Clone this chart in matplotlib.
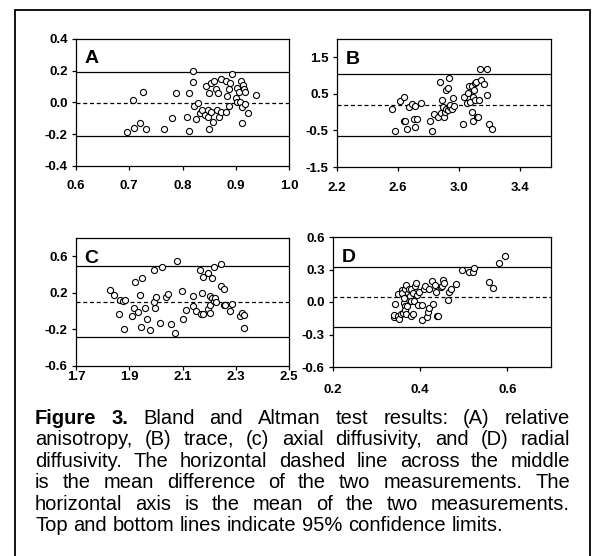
import matplotlib
matplotlib.use('Agg')
import matplotlib.pyplot as plt
from matplotlib.font_manager import FontProperties
from matplotlib.patches import Rectangle

# --- dados (media vs diferenca) ---
a_x = [0.696, 0.7075, 0.709, 0.72, 0.726, 0.731, 0.765, 0.781, 0.7875, 0.808, 0.8125, 0.813,
       0.819, 0.82, 0.821, 0.826, 0.829, 0.8325, 0.836, 0.842, 0.845, 0.847, 0.849, 0.85,
       0.848, 0.854, 0.8575, 0.86, 0.862, 0.854, 0.866, 0.864, 0.869, 0.873, 0.873, 0.8825,
       0.884, 0.881, 0.8875, 0.8875, 0.89, 0.893, 0.9, 0.9025, 0.903, 0.906, 0.909, 0.9075,
       0.912, 0.912, 0.914, 0.915, 0.917, 0.917, 0.923, 0.9375]
a_y = [-0.187, 0.017, -0.158, -0.131, 0.063, -0.164, -0.164, -0.097, 0.061, -0.091, 0.061, -0.179,
       0.131, 0.2, -0.021, -0.101, -0.002, -0.069, -0.048, -0.08, 0.105, -0.048, -0.164, 0.061,
       -0.091, 0.12, -0.122, 0.137, 0.084, -0.059, 0.057, -0.048, -0.091, 0.146, -0.059, 0.137,
       0.04, -0.059, 0.088, -0.023, 0.12, 0.177, 0.029, 0.093, 0.004, 0.067, 0.135, 0.0,
       -0.126, -0.027, 0.109, 0.088, 0.067, -0.011, -0.069, 0.046]

b_x = [2.562, 2.582, 2.612, 2.638, 2.64, 2.647, 2.66, 2.671, 2.688, 2.703, 2.71, 2.712, 2.721,
       2.747, 2.808, 2.823, 2.834, 2.864, 2.875, 2.879, 2.888, 2.894, 2.899, 2.905, 2.912, 2.916,
       2.925, 2.927, 2.933, 2.936, 2.942, 2.951, 2.957, 2.966, 3.027, 3.029, 3.051, 3.057, 3.064,
       3.068, 3.081, 3.085, 3.088, 3.09, 3.096, 3.103, 3.105, 3.111, 3.116, 3.122, 3.129, 3.133,
       3.144, 3.161, 3.183, 3.183, 3.194, 3.211]
b_y = [0.096, -0.518, 0.298, 0.417, -0.243, -0.243, -0.463, 0.133, 0.225, -0.188, -0.417, 0.179,
       -0.188, 0.252, -0.234, -0.518, -0.05, -0.124, 0.821, -0.014, 0.326, 0.151, -0.142, 0.014,
       0.61, 0.078, 0.647, 0.06, 0.922, 0.133, 0.197, 0.078, 0.399, 0.17, -0.335, 0.417, 0.243,
       0.537, 0.72, 0.289, 0.711, 0.005, -0.243, 0.427, 0.601, 0.326, 0.794, 0.812, -0.124,
       -0.124, 0.344, 1.188, 0.885, 0.775, 1.188, 0.482, -0.335, -0.472]

c_x = [1.8275, 1.844, 1.86, 1.865, 1.875, 1.8825, 1.881, 1.91, 1.919, 1.9225, 1.931, 1.94, 1.9425,
       1.949, 1.959, 1.966, 1.979, 1.994, 1.994, 1.9975, 1.999, 2.014, 2.0225, 2.0375, 2.045,
       2.0575, 2.071, 2.08, 2.099, 2.101, 2.1125, 2.139, 2.139, 2.1525, 2.165, 2.169, 2.175,
       2.1775, 2.1775, 2.196, 2.1975, 2.2025, 2.2025, 2.2025, 2.209, 2.2125, 2.2175, 2.219,
       2.221, 2.224, 2.244, 2.244, 2.255, 2.255, 2.26, 2.28, 2.286, 2.315, 2.325, 2.33, 2.331]
c_y = [0.229, 0.174, -0.028, 0.119, 0.116, 0.119, -0.193, -0.053, 0.039, 0.321, -0.013, 0.178,
       -0.174, 0.365, 0.031, -0.09, -0.211, 0.101, 0.45, 0.039, 0.16, -0.127, 0.486, 0.152,
       0.185, -0.145, -0.244, 0.545, 0.215, -0.086, 0.017, 0.171, 0.057, 0.002, 0.45, -0.028,
       0.2, -0.031, 0.369, 0.42, 0.024, -0.024, 0.068, 0.163, 0.361, 0.149, 0.483, 0.112,
       0.141, 0.097, 0.519, 0.27, 0.237, 0.068, 0.068, 0.002, 0.083, -0.057, -0.02, -0.039, -0.182]

d_x = [0.339, 0.341, 0.3425, 0.349, 0.352, 0.349, 0.3555, 0.358, 0.359, 0.361, 0.362, 0.363,
       0.364, 0.3655, 0.366, 0.368, 0.3685, 0.37, 0.3725, 0.375, 0.376, 0.3785, 0.38, 0.38,
       0.3825, 0.384, 0.3855, 0.388, 0.39, 0.3925, 0.395, 0.397, 0.403, 0.405, 0.4085, 0.41,
       0.416, 0.4175, 0.4205, 0.4205, 0.4275, 0.43, 0.435, 0.436, 0.4385, 0.441, 0.447, 0.45,
       0.453, 0.4545, 0.463, 0.4665, 0.4705, 0.483, 0.496, 0.512, 0.521, 0.5225, 0.558, 0.567,
       0.5815, 0.595]
d_y = [-0.142, -0.117, -0.023, -0.133, -0.154, 0.07, -0.111, 0.107, 0.079, -0.101, -0.008, 0.039,
       -0.036, -0.07, 0.117, -0.111, 0.157, -0.039, 0.086, 0.123, 0.054, -0.133, 0.008, 0.117,
       -0.108, 0.086, 0.005, 0.151, 0.179, 0.064, -0.03, 0.092, -0.03, -0.164, 0.123, 0.151,
       -0.142, -0.095, -0.055, 0.117, 0.198, -0.017, 0.154, 0.095, -0.126, -0.133, 0.139, 0.148,
       0.201, 0.179, 0.02, 0.095, 0.117, 0.17, 0.298, 0.273, 0.279, 0.31, 0.189, 0.129, 0.36, 0.429]

# limites: (media, limite superior, limite inferior)
a_lim = (-0.005, 0.19, -0.21)
b_lim = (0.2, 1.05, -0.65)
c_lim = (0.1, 0.49, -0.28)
d_lim = (0.05, 0.32, -0.23)

a_xticks = [0.6, 0.7, 0.8, 0.9, 1.0]
a_yticks = [-0.4, -0.2, 0.0, 0.2, 0.4]
b_xticks = [2.2, 2.6, 3.0, 3.4]
b_yticks = [-1.5, -0.5, 0.5, 1.5]
c_xticks = [1.7, 1.9, 2.1, 2.3, 2.5]
c_yticks = [-0.6, -0.2, 0.2, 0.6]
d_xticks = [0.2, 0.4, 0.6]
d_yticks = [-0.6, -0.3, 0.0, 0.3, 0.6]

W, H = 592, 556
plt.rcParams['font.family'] = ['Liberation Sans', 'DejaVu Sans']
fig = plt.figure(figsize=(W / 100, H / 100), dpi=100)


def eixo(left, top, right, bottom):
    return fig.add_axes([left / W, 1 - bottom / H, (right - left) / W, (bottom - top) / H])


paineis = [
    ('A', eixo(76, 39, 289, 166), a_x, a_y, a_lim, (0.6, 1.0), (-0.4, 0.4), a_xticks, a_yticks, 7),
    ('B', eixo(337, 39, 551, 167), b_x, b_y, b_lim, (2.2, 3.6), (-1.5, 2.0), b_xticks, b_yticks, 8),
    ('C', eixo(76, 238, 289, 366), c_x, c_y, c_lim, (1.7, 2.5), (-0.6, 0.8), c_xticks, c_yticks, 0.3),
    ('D', eixo(333, 237, 551, 367), d_x, d_y, d_lim, (0.2, 0.7), (-0.6, 0.6), d_xticks, d_yticks, 9),
]

for letra, ax, xs, ys, lim, xl, yl, xt, yt, xpad in paineis:
    ax.axhline(lim[1], color='black', lw=0.9)
    ax.axhline(lim[2], color='black', lw=0.9)
    ax.axhline(lim[0], color='black', lw=0.9, dashes=(3.2, 2.2))
    ax.plot(xs, ys, 'o', mfc='white', mec='black', ms=4.4, mew=0.8, zorder=3)
    ax.set_xlim(*xl)
    ax.set_ylim(*yl)
    ax.set_xticks(xt)
    ax.set_yticks(yt)
    ax.set_xticklabels(['%.1f' % v for v in xt], fontweight='bold', fontsize=9.5)
    ax.set_yticklabels(['%.1f' % v for v in yt], fontweight='bold', fontsize=9.5)
    ax.tick_params(direction='out', length=3, width=0.9, color='black')
    ax.tick_params(axis='x', pad=xpad)
    ax.tick_params(axis='y', pad=3)
    for s in ax.spines.values():
        s.set_linewidth(0.9)
    ax.text(0.04, 0.91, letra, transform=ax.transAxes, fontsize=14, fontweight='bold',
            va='top', ha='left')

# moldura externa
fig.patches.append(Rectangle((15 / W, -0.01), 575 / W, 1 - 10 / H + 0.01, transform=fig.transFigure,
                             fill=False, edgecolor='black', lw=1.3))

# legenda justificada
linhas = [
    [('Figure', 'bold'), ('3.', 'bold'), ('Bland', 'normal'), ('and', 'normal'), ('Altman', 'normal'),
     ('test', 'normal'), ('results:', 'normal'), ('(A)', 'normal'), ('relative', 'normal')],
    'anisotropy, (B) trace, (c) axial diffusivity, and (D) radial',
    'diffusivity. The horizontal dashed line across the middle',
    'is the mean difference of the two measurements. The',
    'horizontal axis is the mean of the two measurements.',
    'Top and bottom lines indicate 95% confidence limits.',
]
x0, x1 = 35, 570
base = 424
passo = 21.4
tam = 14.5
renderer = fig.canvas.get_renderer()
for i, linha in enumerate(linhas):
    if isinstance(linha, str):
        palavras = [(p, 'normal') for p in linha.split()]
    else:
        palavras = linha
    larg = [renderer.get_text_width_height_descent(p, FontProperties(family='Liberation Sans', weight=w, size=tam), ismath=False)[0]
            for p, w in palavras]
    if i < len(linhas) - 1:
        gap = (x1 - x0 - sum(larg)) / (len(palavras) - 1)
    else:
        gap = renderer.get_text_width_height_descent('a a', FontProperties(family='Liberation Sans', size=tam), ismath=False)[0] - \
            renderer.get_text_width_height_descent('aa', FontProperties(family='Liberation Sans', size=tam), ismath=False)[0]
    x = x0
    y = base + i * passo
    for (p, w), lw in zip(palavras, larg):
        fig.text(x / W, 1 - y / H, p, fontsize=tam, fontweight=w, ha='left', va='baseline')
        x += lw + gap

fig.savefig('out.png', dpi=100)
